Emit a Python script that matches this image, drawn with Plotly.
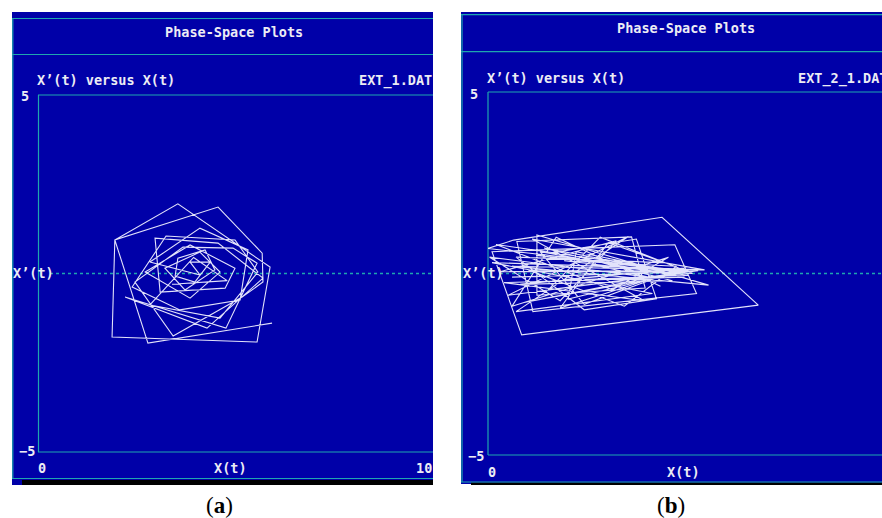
import plotly.graph_objects as go

# ---------------- data (X(t), X'(t)) ----------------
# panel (a): EXT_1.DAT
xa = [5.94, 2.79, 1.95, 3.55, 5.89, 5.56, 1.88, 1.95, 4.57, 5.69, 5.71, 5.18, 3.43, 2.46,
      3.68, 4.95, 5.56, 4.77, 2.21, 4.29, 5.71, 4.57, 2.97, 3.10, 4.75, 5.00, 3.86, 2.72,
      3.86, 4.62, 4.11, 3.22, 3.73, 4.49, 4.24, 3.55, 3.48, 3.98, 4.37, 3.86, 4.11,
      2.84, 4.11, 5.33, 5.13, 3.60, 2.39, 3.25, 5.00, 5.58, 4.62, 2.84, 3.95, 4.80, 3.40]
ya = [-1.39, -1.95, 0.94, 1.95, 0.18, -1.92, -1.78, 0.94, 1.86, 0.57, -0.24, -0.66, -1.75, -0.24,
      0.74, 0.71, 0.29, -1.53, -0.66, -1.53, -0.13, 0.85, 0.99, -0.52, -0.41, 0.15, 0.80, 0.04,
      -0.69, 0.04, 0.60, 0.15, -0.46, 0.10, 0.66, 0.43, -0.07, -0.24, 0.32, 0.32, -0.04,
      0.32, 1.27, 0.66, -0.74, -1.02, -0.38, 1.05, 0.94, 0.04, -1.25, -0.88, 0.45, -0.20, -0.30]

# panel (b): EXT_2_1.DAT
xb = [0.30, 2.55, 0.00, 0.32, 2.17, 3.37, 0.42, 0.05, 2.33, 2.60, 0.56, 0.36, 1.79, 1.96,
      0.61, 0.61, 2.75, 0.30, 2.50, 0.45, 2.40, 0.70, 2.30, 0.40, 2.45, 0.90, 1.50, 2.20,
      0.35, 1.20, 2.10, 1.85, 0.60, 2.50, 0.75, 1.40, 2.55, 0.50, 1.70, 2.35, 0.95, 2.50,
      0.80, 2.20, 1.10, 1.00, 2.40, 1.30, 2.00,
      0.02, 0.90, 1.60, 0.15, 2.62, 0.25, 1.75, 0.35, 2.05, 0.05, 2.70, 0.55, 1.95, 0.20,
      2.45, 0.65, 1.20, 2.35, 0.10, 1.55, 2.25, 0.30, 0.85, 2.15]
yb = [-0.10, 0.05, 0.69, 0.92, 1.55, -0.87, -1.69, 0.60, 0.79, -0.55, -1.05, 0.88, 1.01, -0.40,
      -0.60, 1.06, -0.32, 0.20, 0.10, -0.80, 0.00, 0.70, -0.20, -0.30, 0.15, -0.95, 0.85, 0.30,
      0.45, -1.00, -0.70, 0.95, 0.50, 0.05, -0.45, 1.00, 0.00, 0.10, -0.90, 0.20, 0.35, -0.05,
      -0.20, 0.10, 0.60, -0.70, 0.05, 0.25, -0.10,
      0.45, -0.75, 0.90, 0.05, 0.08, -0.60, 1.02, -1.05, -0.55, 0.30, 0.10, 0.95, -0.75, -0.25,
      -0.10, 0.60, -0.85, 0.08, 0.80, -0.45, 0.45, -0.90, 1.00, -0.35]

titles = ["Phase-Space Plots", "Phase-Space Plots"]
subtitles = ["X’(t) versus X(t)", "X’(t) versus X(t)"]
files = ["EXT_1.DAT", "EXT_2_1.DAT"]
xmax_labels = ["10", "5"]
panel_labels = ["(<b>a</b>)", "(<b>b</b>)"]

# ---------------- styling ----------------
W, H = 882, 518
BLUE = "#0000A8"
CYAN = "#1FA6AE"
TXT = "#ECECF4"
LINE = "rgba(238,238,255,0.95)"
MONO = "DejaVu Sans Mono"


def px(x):
    return x / W


def py(y):
    return 1 - y / H


fig = go.Figure()
fig.add_trace(go.Scatter(x=xa, y=ya, mode="lines", line=dict(color=LINE, width=1.1),
                         xaxis="x", yaxis="y", hoverinfo="skip", showlegend=False))
fig.add_trace(go.Scatter(x=xb, y=yb, mode="lines", line=dict(color=LINE, width=1.1),
                         xaxis="x2", yaxis="y2", hoverinfo="skip", showlegend=False))

shapes = []


def rect(x0, y0, x1, y1, color):
    shapes.append(dict(type="rect", xref="paper", yref="paper", x0=px(x0), x1=px(x1),
                       y0=py(y1), y1=py(y0), fillcolor=color, line=dict(width=0), layer="below"))


def hline(x0, x1, y, color=CYAN, w=1.2):
    shapes.append(dict(type="line", xref="paper", yref="paper", x0=px(x0), x1=px(x1),
                       y0=py(y), y1=py(y), line=dict(color=color, width=w), layer="below"))


def vline(x, y0, y1, color=CYAN, w=1.2):
    shapes.append(dict(type="line", xref="paper", yref="paper", x0=px(x), x1=px(x),
                       y0=py(y0), y1=py(y1), line=dict(color=color, width=w), layer="below"))


# panel (a) frame
rect(12, 12, 433, 485, BLUE)
rect(22, 480, 433, 485, "#000000")
hline(12, 433, 18.5)
hline(12, 433, 54.5)
hline(12, 433, 478.5)
vline(12.8, 18, 479)
hline(38, 433, 95)
hline(38, 433, 452)
vline(38.5, 95, 452)
shapes.append(dict(type="line", xref="paper", yref="y", x0=px(50), x1=px(433), y0=0, y1=0,
                   line=dict(color=CYAN, width=1.3, dash="dot"), layer="below"))

# panel (b) frame
rect(461, 12, 882, 484, BLUE)
rect(471, 482.5, 882, 485, "#000000")
hline(461, 882, 14.7)
hline(461, 882, 51.7)
hline(461, 882, 482)
vline(462, 14, 482)
hline(488, 882, 92)
hline(488, 882, 455)
vline(488, 92, 455)
shapes.append(dict(type="line", xref="paper", yref="y2", x0=px(500), x1=px(882), y0=0, y1=0,
                   line=dict(color=CYAN, width=1.3, dash="dot"), layer="below"))

ann = []


def text(t, x, y, xa="left", size=13.5, color=TXT, family=MONO):
    ann.append(dict(text=t, x=px(x), y=py(y), xref="paper", yref="paper", showarrow=False,
                    xanchor=xa, yanchor="middle",
                    font=dict(family=family, size=size, color=color)))


def b(t):
    return "<b>" + t + "</b>"


# panel (a) texts
text(b(titles[0]), 234, 32, "center")
text(b(subtitles[0]), 35, 80)
text(b(files[0]), 434, 80, "right")
text(b("5"), 19, 96)
text(b("−5"), 37, 451, "right")
text(b("0"), 36, 468)
text(b("X(t)"), 230, 468, "center")
text(b(xmax_labels[0]), 434, 468, "right")
text(b("X’(t)"), 11, 273)
text(panel_labels[0], 219, 505, "center", size=23, color="#000000", family="Liberation Serif")

# panel (b) texts
text(b(titles[1]), 686, 28, "center")
text(b(subtitles[1]), 485, 78)
text(b(files[1]), 796, 78)
text(b("5"), 468, 94)
text(b("−5"), 486, 456, "right")
text(b("0"), 486, 472)
text(b("X(t)"), 683, 472, "center")
text(b(xmax_labels[1]), 880, 472)
text(b("X’(t)"), 461, 273)
text(panel_labels[1], 671, 505, "center", size=23, color="#000000", family="Liberation Serif")

axis_common = dict(showgrid=False, zeroline=False, showticklabels=False, ticks="",
                   showline=False, fixedrange=True)

fig.update_layout(
    width=W, height=H, margin=dict(l=0, r=0, t=0, b=0),
    paper_bgcolor="white", plot_bgcolor="rgba(0,0,0,0)",
    xaxis=dict(domain=[px(38), px(433)], range=[0, (433 - 38) / 39.4], **axis_common),
    yaxis=dict(domain=[py(452), py(95)], range=[-5, 5], **axis_common),
    xaxis2=dict(domain=[px(488), 1.0], range=[0, (882 - 488) / 80.2], anchor="y2", **axis_common),
    yaxis2=dict(domain=[py(455), py(92)], range=[-5, 5], anchor="x2", **axis_common),
    shapes=shapes, annotations=ann, showlegend=False,
)

fig.write_html("out.html", config={"displayModeBar": False},
               post_script="document.body.style.margin='0px';document.body.style.overflow='hidden';")
